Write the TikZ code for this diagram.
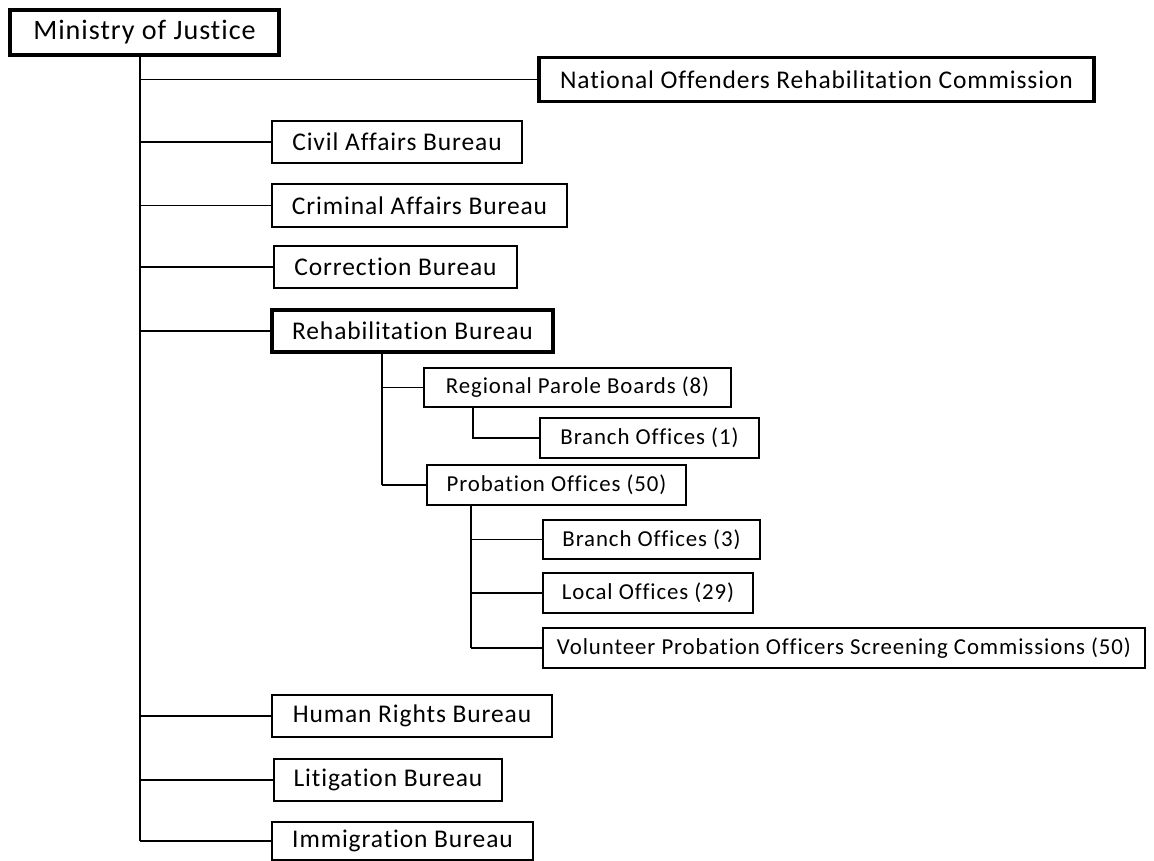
\documentclass[tikz,border=0pt]{standalone}
\usepackage{fontspec}
\setmainfont{Carlito}[Ligatures={NoCommon}]

\tikzset{
  sz/.style 2 args={minimum width=#1*0.02cm,minimum height=#2*0.02cm},
  unit/.style={draw,line width=.8pt,inner sep=0pt,font=\fontsize{14.5}{17}\selectfont\addfontfeatures{LetterSpace=3.5}},
  unitmain/.style={unit,line width=1.8pt},
  office/.style={unit,font=\fontsize{13}{15}\selectfont\addfontfeatures{LetterSpace=4}},
  link/.style={line width=.8pt},
}

\begin{document}
\begin{tikzpicture}[x=0.02cm,y=-0.02cm]
\useasboundingbox (0,0) rectangle (1154,861);
% top level
\node[unitmain,sz={269}{45},font=\fontsize{16}{19}\selectfont\addfontfeatures{LetterSpace=3.5}] (moj) at (144.5,32.5) {Ministry of Justice};
\node[unitmain,sz={555}{44}] (norc) at (816.5,79.5) {National Offenders Rehabilitation Commission};
% bureaus
\node[unit,sz={250}{42}] (civil) at (397,142) {Civil Affairs Bureau};
\node[unit,sz={295}{43}] (crim) at (419.5,205.5) {Criminal Affairs Bureau};
\node[unit,sz={243}{42}] (corr) at (395.5,267) {Correction Bureau};
\node[unitmain,sz={281}{42}] (rehab) at (412.5,331) {Rehabilitation Bureau};
\node[unit,sz={280}{42}] (hr) at (412,716) {Human Rights Bureau};
\node[unit,sz={228}{42}] (lit) at (388,780) {Litigation Bureau};
\node[unit,sz={261}{38}] (imm) at (402.5,841) {Immigration Bureau};
% rehabilitation offices
\node[office,sz={307}{39}] (parole) at (577.5,387.5) {Regional Parole Boards (8)};
\node[office,sz={219}{40}] (br1) at (649.5,438) {Branch Offices (1)};
\node[office,sz={259}{40}] (prob) at (556.5,485) {Probation Offices (50)};
\node[office,sz={217}{39}] (br3) at (651.5,539.5) {Branch Offices (3)};
\node[office,sz={210}{40}] (local) at (648,593) {Local Offices (29)};
\node[office,sz={602}{40}] (vposc) at (844,648) {Volunteer Probation Officers Screening Commissions (50)};
% connectors
\coordinate (t) at (140,0);
\coordinate (r) at (382,0);
\coordinate (p) at (473,0);
\coordinate (q) at (471,0);
\draw[link] (moj.south -| t) -- (imm.west -| t);
\foreach \n in {norc,civil,crim,corr,rehab,hr,lit,imm}
  \draw[link] (\n.west -| t) -- (\n.west);
\draw[link] (rehab.south -| r) -- (prob.west -| r);
\foreach \n in {parole,prob}
  \draw[link] (\n.west -| r) -- (\n.west);
\draw[link] (parole.south -| p) |- (br1.west);
\draw[link] (prob.south -| q) -- (vposc.west -| q);
\foreach \n in {br3,local,vposc}
  \draw[link] (\n.west -| q) -- (\n.west);
\end{tikzpicture}
\end{document}
